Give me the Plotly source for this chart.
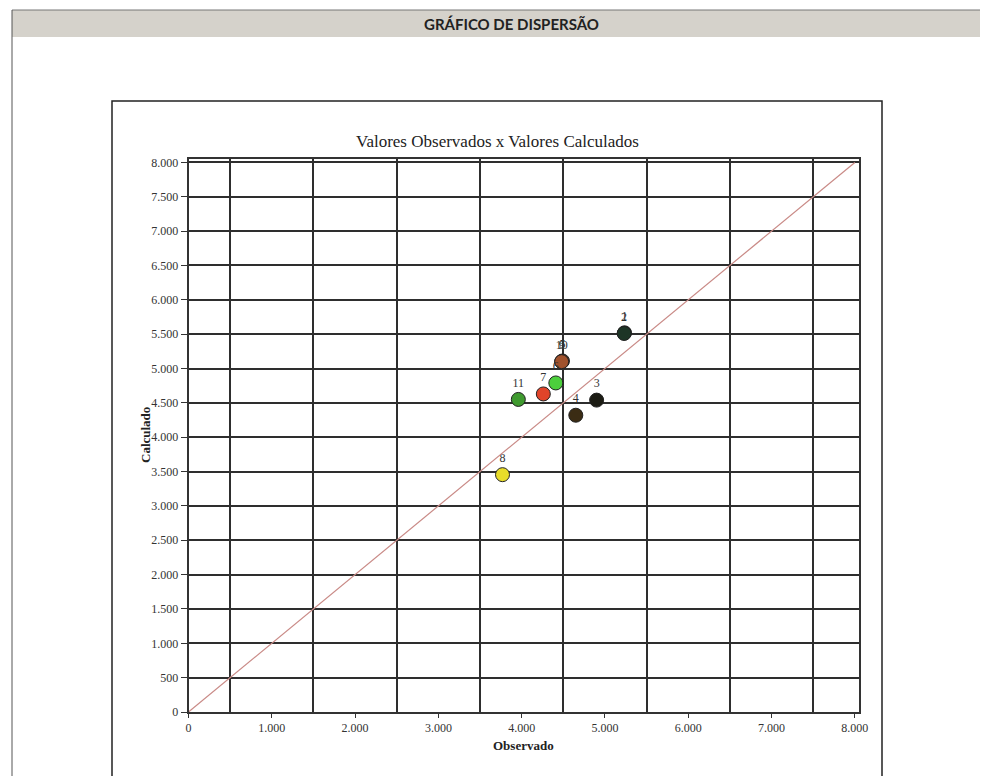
import plotly.graph_objects as go

# ---- data ----
point_ids = ["1", "2", "3", "4", "5", "6", "7", "8", "9", "10", "11"]
observado = [5235, 5230, 4900, 4650, 4490, 4410, 4260, 3770, 4480, 4480, 3960]
calculado = [5520, 5510, 4540, 4320, 5110, 4790, 4630, 3455, 5100, 5100, 4550]
point_colors = ["#1d2b1e", "#1d3526", "#1c1c14", "#3b2c14", "#8b4a2a", "#4ccf3c",
                "#e0442a", "#e8dc2a", "#8b4a2a", "#a0522d", "#3f9a2f"]

ref_line = [0, 8000]
tick_vals = [0, 1000, 2000, 3000, 4000, 5000, 6000, 7000, 8000]
tick_text = ["0", "1.000", "2.000", "3.000", "4.000", "5.000", "6.000", "7.000", "8.000"]
y_tick_vals = [0, 500, 1000, 1500, 2000, 2500, 3000, 3500, 4000, 4500, 5000,
               5500, 6000, 6500, 7000, 7500, 8000]
y_tick_text = ["0", "500", "1.000", "1.500", "2.000", "2.500", "3.000", "3.500",
               "4.000", "4.500", "5.000", "5.500", "6.000", "6.500", "7.000",
               "7.500", "8.000"]
x_grid_vals = [500, 1500, 2500, 3500, 4500, 5500, 6500, 7500]

OFF = 8  # default page margin of the html body
W, H = 980, 768
serif = "Liberation Serif, Times New Roman, serif"


def px(x):
    return (x - OFF) / W


def py(y):
    return 1 - (y - OFF) / H


fig = go.Figure()

# reference line drawn on the overlay axis (also makes its vertical grid render)
fig.add_trace(go.Scatter(
    x=ref_line, y=ref_line, mode="lines", xaxis="x2", yaxis="y",
    line=dict(color="#c98a86", width=1.2),
    hoverinfo="skip", showlegend=False,
))

fig.add_trace(go.Scatter(
    x=observado, y=calculado, mode="markers+text",
    text=point_ids, textposition="top center",
    textfont=dict(family=serif, size=12, color="#333"),
    marker=dict(size=14, color=point_colors, line=dict(color="#222", width=1)),
    showlegend=False,
))

xdom = [px(188.5), px(859)]
ydom = [py(712), py(159)]
rng = [0, 8050]
grid_col = "#2e2e2e"

fig.update_layout(
    width=W, height=H,
    margin=dict(l=0, r=0, t=0, b=0, pad=0),
    paper_bgcolor="white", plot_bgcolor="white",
    xaxis=dict(
        domain=xdom, range=rng, tickvals=tick_vals, ticktext=tick_text,
        showgrid=False, zeroline=False, automargin=False,
        showline=True, linecolor="#333", linewidth=1.6, mirror=True,
        ticks="outside", ticklen=4, tickcolor="#333",
        tickfont=dict(family=serif, size=12, color="#333"),
    ),
    xaxis2=dict(
        domain=xdom, range=rng, overlaying="x", anchor="y",
        tickvals=x_grid_vals, showticklabels=False, automargin=False,
        showgrid=True, gridcolor=grid_col, gridwidth=1.6, zeroline=False,
    ),
    yaxis=dict(
        domain=ydom, range=rng, tickvals=y_tick_vals, ticktext=y_tick_text,
        showgrid=True, gridcolor=grid_col, gridwidth=1.6, zeroline=False,
        automargin=False,
        showline=True, linecolor="#333", linewidth=1.6, mirror=True,
        ticks="outside", ticklen=6, tickcolor="#333",
        tickfont=dict(family=serif, size=12, color="#333"),
    ),
    shapes=[
        # title band
        dict(type="rect", xref="paper", yref="paper",
             x0=px(12), x1=1.0, y0=py(37), y1=py(10),
             fillcolor="#d5d2cb", line=dict(width=0), layer="below"),
        dict(type="line", xref="paper", yref="paper",
             x0=px(12), x1=1.0, y0=py(10), y1=py(10),
             line=dict(color="#777", width=1)),
        # page left border
        dict(type="line", xref="paper", yref="paper",
             x0=px(12), x1=px(12), y0=0, y1=py(10),
             line=dict(color="#555", width=1)),
        # chart outer box
        dict(type="rect", xref="paper", yref="paper",
             x0=px(112), x1=px(882), y0=-0.05, y1=py(101),
             line=dict(color="#222", width=1.5), layer="below"),
    ],
    annotations=[
        dict(text="<b>GRÁFICO DE DISPERSÃO</b>", xref="paper", yref="paper",
             x=px(512), y=py(24), xanchor="center", yanchor="middle", showarrow=False,
             font=dict(family="Lato, DejaVu Sans, sans-serif", size=15, color="#222")),
        dict(text="Valores Observados x Valores Calculados", xref="paper", yref="paper",
             x=px(497), y=py(141), xanchor="center", yanchor="middle", showarrow=False,
             font=dict(family=serif, size=17, color="#222")),
        dict(text="<b>Observado</b>", xref="paper", yref="paper",
             x=px(523), y=py(745), xanchor="center", yanchor="middle", showarrow=False,
             font=dict(family=serif, size=13, color="#222")),
        dict(text="<b>Calculado</b>", xref="paper", yref="paper",
             x=px(145), y=py(435), xanchor="center", yanchor="middle", showarrow=False,
             textangle=-90,
             font=dict(family=serif, size=13, color="#222")),
    ],
)

fig.write_html("out.html")
